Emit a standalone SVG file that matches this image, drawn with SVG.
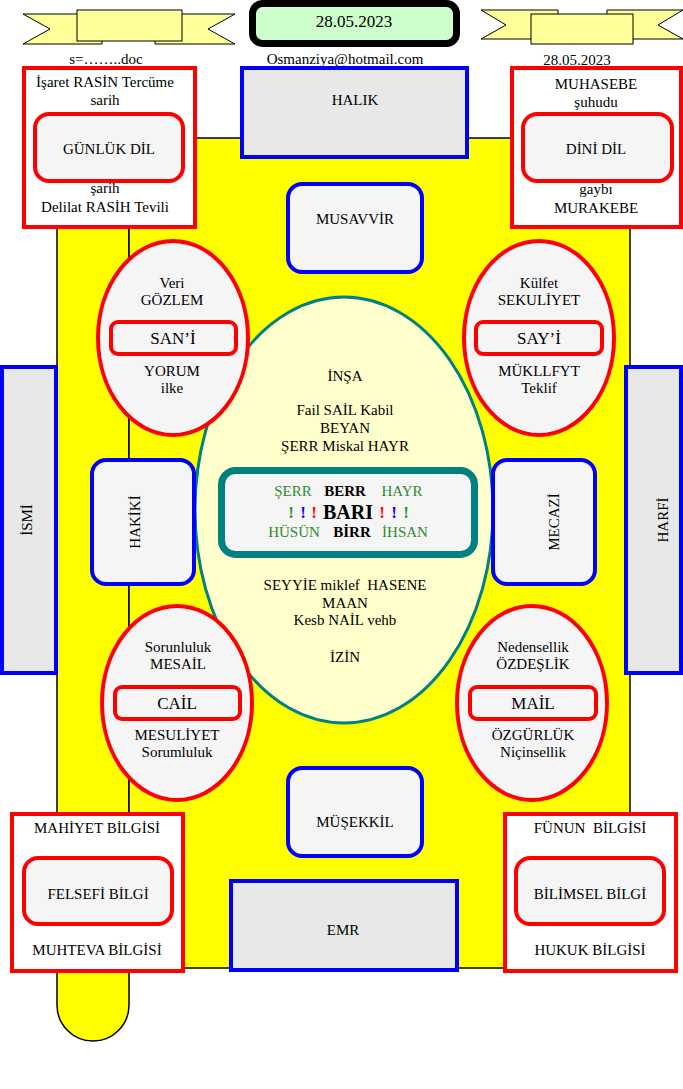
<svg xmlns="http://www.w3.org/2000/svg" width="683" height="1089" viewBox="0 0 683 1089">
<style>
.t{font-family:"Liberation Serif","Times New Roman",serif;font-size:15px;fill:#000;text-anchor:middle}
.big{font-size:17px}
.g{fill:#2e8b2e}
.b{font-weight:bold}
.ex{font-weight:bold;font-size:17px}
.ban{fill:#ffff99;stroke:#000;stroke-width:1}
.yel{fill:#ffff00;stroke:#000;stroke-width:1.5}
.rbox{fill:#fff;stroke:#ff0000;stroke-width:4}
.rin{fill:#f5f5f5;stroke:#ff0000;stroke-width:4}
.ell{fill:#f5f5f5;stroke:#ff0000;stroke-width:4}
.bsq{fill:#e8e8e8;stroke:#0000ff;stroke-width:4}
.brd{fill:#f5f5f5;stroke:#0000ff;stroke-width:4}
</style>
<rect width="683" height="1089" fill="#fff"/>

<g id="background">
<path class="yel" d="M57,180 V1005 A36,36 0 0 0 129,1005 V180 Z"/>
<rect class="yel" x="129" y="138" width="501" height="830"/>
</g>

<g id="banner-left">
<polygon class="ban" points="23,14 102,14 102,44 23,44 50,29"/>
<polygon class="ban" points="155,14 235,14 208,29 235,44 155,44"/>
<rect class="ban" x="77" y="10" width="105" height="31"/>
</g>
<g id="banner-right">
<polygon class="ban" points="481,10 558,10 558,39 481,39 506,25"/>
<polygon class="ban" points="607,10 683,10 658,25 683,39 607,39"/>
<rect class="ban" x="531" y="14" width="102" height="30"/>
</g>
<g id="date-box">
<rect x="252.5" y="3.5" width="204" height="40" rx="10" fill="#ccffcc" stroke="#000" stroke-width="7"/>
<text class="t big" x="354" y="27">28.05.2023</text>
</g>
<g id="header-texts">
<text class="t" x="106" y="64">s=……..doc</text>
<text class="t" x="345" y="64">Osmanziya@hotmail.com</text>
<text class="t" x="577" y="65">28.05.2023</text>
</g>

<g id="gunluk-dil">
<rect class="rbox" x="24" y="68" width="171" height="159"/>
<rect class="rin" x="35" y="114" width="148" height="67" rx="14"/>
<text class="t" x="105" y="87">İşaret RASİN Tercüme</text>
<text class="t" x="105" y="105">sarih</text>
<text class="t" x="109" y="154">GÜNLÜK DİL</text>
<text class="t" x="105" y="193">şarih</text>
<text class="t" x="105" y="212">Delilat RASİH Tevili</text>
</g>

<g id="dini-dil">
<rect class="rbox" x="512" y="68" width="169" height="159"/>
<rect class="rin" x="523" y="114" width="149" height="67" rx="14"/>
<text class="t" x="596" y="89">MUHASEBE</text>
<text class="t" x="596" y="107">şuhudu</text>
<text class="t" x="596" y="154">DİNİ DİL</text>
<text class="t" x="596" y="194">gaybı</text>
<text class="t" x="596" y="213">MURAKEBE</text>
</g>

<g id="halik">
<rect class="bsq" x="242" y="68" width="225" height="89"/>
<text class="t" x="355" y="105">HALIK</text>
</g>

<g id="musavvir">
<rect class="brd" x="288" y="184" width="134" height="88" rx="14"/>
<text class="t" x="355" y="224">MUSAVVİR</text>
</g>

<g id="ismi">
<rect class="bsq" x="2" y="367" width="54" height="306"/>
<text class="t" transform="translate(32,520) rotate(-90)">İSMİ</text>
</g>
<g id="harfi">
<rect class="bsq" x="626" y="367" width="55" height="306"/>
<text class="t" transform="translate(668,520) rotate(-90)">HARFİ</text>
</g>

<g id="bari">
<ellipse cx="344" cy="510" rx="149" ry="213" fill="#ffffcc" stroke="#008080" stroke-width="3"/>
<text class="t" x="345" y="381">İNŞA</text>
<text class="t" x="345" y="415">Fail SAİL Kabil</text>
<text class="t" x="345" y="433">BEYAN</text>
<text class="t" x="345" y="451">ŞERR Miskal HAYR</text>
<rect x="221.5" y="470.5" width="253" height="84" rx="14" fill="#f5f5f5" stroke="#008080" stroke-width="7"/>
<text class="t g" x="293" y="496">ŞERR</text>
<text class="t b" x="345" y="496">BERR</text>
<text class="t g" x="402" y="496">HAYR</text>
<text class="t ex" x="291" y="518" fill="#2e8b2e" style="fill:#2e8b2e">!</text>
<text class="t ex" x="303" y="518" style="fill:#0000ff">!</text>
<text class="t ex" x="314" y="518" style="fill:#ff0000">!</text>
<text class="t b" x="348" y="519" style="font-size:20px">BARI</text>
<text class="t ex" x="382" y="518" style="fill:#ff0000">!</text>
<text class="t ex" x="394" y="518" style="fill:#0000ff">!</text>
<text class="t ex" x="406" y="518" style="fill:#2e8b2e">!</text>
<text class="t g" x="294" y="537">HÜSÜN</text>
<text class="t b" x="352" y="537">BİRR</text>
<text class="t g" x="405" y="537">İHSAN</text>
<text class="t" x="345" y="590" xml:space="preserve">SEYYİE miklef  HASENE</text>
<text class="t" x="345" y="608">MAAN</text>
<text class="t" x="345" y="625">Kesb NAİL vehb</text>
<text class="t" x="345" y="662">İZİN</text>
</g>

<g id="sani">
<ellipse class="ell" cx="173" cy="338" rx="75" ry="97"/>
<rect class="rin" x="111" y="322" width="125" height="32" rx="7"/>
<text class="t" x="172" y="288">Veri</text>
<text class="t" x="172" y="305">GÖZLEM</text>
<text class="t big" x="173" y="344">SAN’İ</text>
<text class="t" x="172" y="376">YORUM</text>
<text class="t" x="172" y="393">ilke</text>
</g>
<g id="hakiki">
<rect class="brd" x="92" y="460" width="102" height="124" rx="14"/>
<text class="t" transform="translate(140,522) rotate(-90)">HAKİKİ</text>
</g>
<g id="cail">
<ellipse class="ell" cx="177" cy="703" rx="75" ry="97"/>
<rect class="rin" x="115" y="687" width="125" height="32" rx="7"/>
<text class="t" x="178" y="652">Sorunluluk</text>
<text class="t" x="178" y="669">MESAİL</text>
<text class="t big" x="177" y="709">CAİL</text>
<text class="t" x="177" y="740">MESULİYET</text>
<text class="t" x="177" y="757">Sorumluluk</text>
</g>

<g id="sayi">
<ellipse class="ell" cx="539" cy="338" rx="75" ry="97"/>
<rect class="rin" x="476" y="322" width="126" height="32" rx="7"/>
<text class="t" x="539" y="288">Külfet</text>
<text class="t" x="539" y="305">SEKULİYET</text>
<text class="t big" x="539" y="344">SAY’İ</text>
<text class="t" x="539" y="376">MÜKLLFYT</text>
<text class="t" x="539" y="393">Teklif</text>
</g>
<g id="mecazi">
<rect class="brd" x="493" y="460" width="102" height="124" rx="14"/>
<text class="t" transform="translate(559,522) rotate(-90)">MECAZİ</text>
</g>
<g id="mail">
<ellipse class="ell" cx="532" cy="703" rx="75" ry="97"/>
<rect class="rin" x="470" y="687" width="126" height="32" rx="7"/>
<text class="t" x="533" y="652">Nedensellik</text>
<text class="t" x="533" y="669">ÖZDEŞLİK</text>
<text class="t big" x="533" y="709">MAİL</text>
<text class="t" x="533" y="740">ÖZGÜRLÜK</text>
<text class="t" x="533" y="757">Niçinsellik</text>
</g>

<g id="musekkil">
<rect class="brd" x="288" y="768" width="134" height="88" rx="14"/>
<text class="t" x="355" y="827">MÜŞEKKİL</text>
</g>
<g id="emr">
<rect class="bsq" x="231" y="881" width="226" height="89"/>
<text class="t" x="343" y="935">EMR</text>
</g>

<g id="felsefi-bilgi">
<rect class="rbox" x="12" y="814" width="171" height="157"/>
<rect class="rin" x="24" y="858" width="148" height="66" rx="14"/>
<text class="t" x="97" y="833">MAHİYET BİLGİSİ</text>
<text class="t" x="98" y="899">FELSEFİ BİLGİ</text>
<text class="t" x="97" y="955">MUHTEVA BİLGİSİ</text>
</g>
<g id="bilimsel-bilgi">
<rect class="rbox" x="505" y="814" width="171" height="157"/>
<rect class="rin" x="516" y="858" width="148" height="66" rx="14"/>
<text class="t" x="590" y="833" xml:space="preserve">FÜNUN  BİLGİSİ</text>
<text class="t" x="590" y="899">BİLİMSEL BİLGİ</text>
<text class="t" x="590" y="955">HUKUK BİLGİSİ</text>
</g>
</svg>
